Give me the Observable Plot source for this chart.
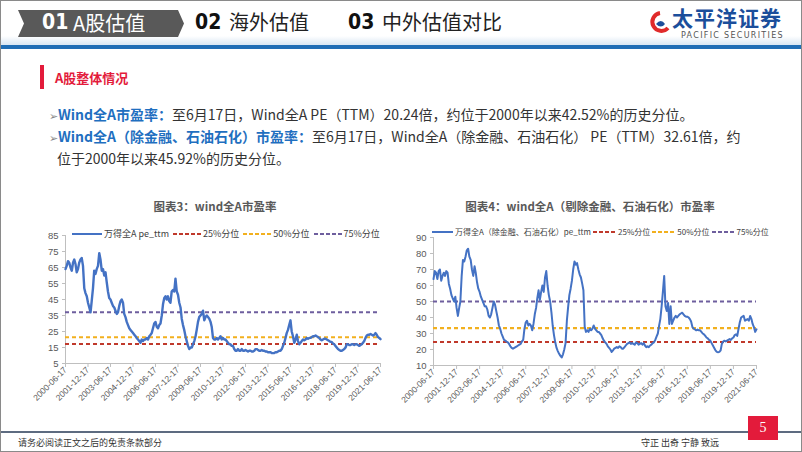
<!DOCTYPE html>
<html><head><meta charset="utf-8">
<script src="https://cdn.jsdelivr.net/npm/d3@7"></script>
<script src="https://cdn.jsdelivr.net/npm/@observablehq/plot@0.6"></script>
<style>
body{margin:0;background:#fff;}
#slide{position:relative;width:802px;height:452px;overflow:hidden;font-family:"Noto Sans CJK SC","Noto Sans",sans-serif;background:#fff;}
.abs{position:absolute;white-space:nowrap;line-height:1;}
.num{font-family:"Liberation Sans Narrow","DejaVu Sans Condensed","Liberation Sans",sans-serif;font-weight:bold;}
.leg{position:absolute;white-space:nowrap;font-size:9px;color:#404040;line-height:1;display:flex;align-items:center;}
.leg svg{display:inline-block;}
</style></head><body><div id="slide">
<div class="abs" style="left:0;top:0;width:800px;height:450px;border:1px solid #8a8a8a;"></div>
<svg class="abs" style="left:0;top:0" width="802" height="50">
  <defs><linearGradient id="hg" x1="0" y1="0" x2="0" y2="1"><stop offset="0" stop-color="#ffffff"/><stop offset="1" stop-color="#d8e6f3"/></linearGradient></defs>
  <rect x="1" y="36" width="800" height="9" fill="url(#hg)"/>
  <rect x="1" y="45" width="800" height="4" fill="#1f6db5"/>
  <polygon points="18,10 178,10 184,23.5 178,37 18,37 24,23.5" fill="#595959"/>
  <path d="M660,13 A9,9 0 1 0 668,28" fill="none" stroke="#e02a2a" stroke-width="4"/>
  <path d="M656,24 q5,-6 9,0 q-4,5 -9,0z" fill="#1b4e9b"/>
</svg>
<div class="abs num" style="left:42px;top:12px;font-size:21px;color:#fff;">01</div>
<div class="abs" style="left:73px;top:13px;font-size:20px;color:#fff;">A股估值</div>
<div class="abs num" style="left:195px;top:12px;font-size:21px;color:#111;">02</div>
<div class="abs" style="left:229px;top:12px;font-size:20px;color:#222;">海外估值</div>
<div class="abs num" style="left:348px;top:12px;font-size:21px;color:#111;">03</div>
<div class="abs" style="left:382px;top:12px;font-size:20px;color:#222;">中外估值对比</div>
<div class="abs" style="left:672px;top:7px;font-size:21px;font-weight:bold;color:#1b4e9b;letter-spacing:1px;">太平洋证券</div>
<div class="abs" style="left:681px;top:32px;font-size:8px;color:#555;letter-spacing:1.3px;font-family:'DejaVu Sans',sans-serif;">PACIFIC SECURITIES</div>
<div class="abs" style="left:40px;top:65px;width:4px;height:24px;background:#e31b3b;"></div>
<div class="abs" style="left:55px;top:71px;font-size:13px;font-weight:bold;color:#e31b3b;">A股整体情况</div>
<div class="abs" style="left:49px;top:107px;font-size:14px;color:#333;">
  <span style="color:#888;font-size:11px;">➢</span><span style="color:#1f6fc0;font-weight:bold;">Wind全A市盈率：</span>至6月17日，Wind全A PE（TTM）20.24倍，约位于2000年以来42.52%的历史分位。</div>
<div class="abs" style="left:49px;top:129px;font-size:14px;color:#333;">
  <span style="color:#888;font-size:11px;">➢</span><span style="color:#1f6fc0;font-weight:bold;">Wind全A（除金融、石油石化）市盈率：</span>至6月17日，Wind全A（除金融、石油石化） PE（TTM）32.61倍，约</div>
<div class="abs" style="left:57px;top:151px;font-size:14px;color:#333;">位于2000年以来45.92%的历史分位。</div>
<div class="abs" style="left:100px;width:230px;text-align:center;top:201px;font-size:11.5px;font-weight:bold;color:#595959;">图表3：wind全A市盈率</div>
<div class="abs" style="left:440px;width:300px;text-align:center;top:201px;font-size:11.5px;font-weight:bold;color:#595959;">图表4：wind全A（剔除金融、石油石化）市盈率</div>
<div id="c1" class="abs" style="left:20px;top:225px;"></div>
<div id="c2" class="abs" style="left:400px;top:225px;"></div>
<div id="l1"></div><div id="l2"></div>
<div class="abs" style="left:1px;top:431px;width:800px;height:2px;background:#5d6b80;"></div>
<div class="abs" style="left:748px;top:416px;width:30px;height:24px;background:#e31b3b;color:#fff;font-family:'Liberation Serif',serif;font-size:14px;text-align:center;line-height:24px;">5</div>
<div class="abs" style="left:18px;top:438px;font-size:9px;color:#333;">请务必阅读正文之后的免责条款部分</div>
<div class="abs" style="left:641px;top:438px;font-size:9px;color:#333;">守正 出奇 宁静 致远</div>
</div>
<script>
// ---- data ----
const startDate = "2000-06-17";
const endDate = "2021-06-17";
const xTickLabels = ["2000-06-17","2001-12-17","2003-06-17","2004-12-17","2006-06-17","2007-12-17","2009-06-17","2010-12-17","2012-06-17","2013-12-17","2015-06-17","2016-12-17","2018-06-17","2019-12-17","2021-06-17"];
// monthly readings, 2000-06 .. 2021-06
const peAll = [
64,66,69,68,65,63,68,70,67,62,
64,68,70,71,66,52,49,47,43,40,
37,44,52,63,61,64,66,74,70,63,
64,60,62,56,50,46,45,43,41,40,
38,36,37,41,44,45,43,36,34,31,
29,27,26,25,24,23,22,21,20,19,
18,20,19,20,20,21,20,22,23,24,
27,30,31,28,27,29,30,35,42,46,
47,45,47,44,43,50,51,50,58,50,
48,43,40,33,29,26,22,19,16,14,
15,15,17,19,22,26,31,34,35,36,
38,32,34,35,34,33,31,28,21,20,
20,21,20,21,22,20,21,20,20,19,
18,17,17,16,16,14,13,13,14,13,
13,14,13,13,13.5,13,12.5,13,13,12.5,
12.5,13,14,14,13.5,13,13,13.5,13,13,
12.5,12.5,12,12,12,11.5,11.5,11.5,12,12,
12.5,13,13,14,16,18,21,24,26,29,
32,25,22,18,20,23,19,17,18,19,
20,19.5,20,21,20.5,21,21,21.5,22,22,
22.5,22,21.5,21,20,19.5,20,20.5,20.5,20,
19.5,19,18.5,18.5,17.5,17,16,15,14,13.5,
13,13,13.5,14,15,17,17,16.5,16.5,17,
17,16.5,17,17,16.5,16,16.5,17,18,19,
21,22.5,23,23,23.5,23,22.5,23,24,23,
21.5,21,20.24];
const peExFin = [
64,69,68,64,69,70,63,66,68,66,
69,68,61,58,54,52,50,53,46,41,
46,50,66,76,75,78,82,83,78,76,
70,66,72,68,62,58,56,53,51,49,
47,47,45,41,40,42,46,50,48,44,
40,35,33,30,28,26,25.5,25,24.5,23.5,
22,21,20.5,21,21.5,22,22.5,23,23.5,25,
26,33,37,38,35,36,35,32,36,42,
46,52,57,51,56,60,56,65,69,60,
54,50,43,35,29,24.5,21,19,17.3,16,
15,17,20,24,38,46,54,58,63,70,
75,73,74,70,67,65,61,57,34,31,
32,31,33,32,33,35,33,32,31,31,
30,29,27,25.5,24.5,23.5,22,21,20,18.5,
19.5,20.5,21,21.5,21,22,21.5,20.5,20.5,21.5,
22.5,23.5,24,24.5,23.5,24,23.5,23,24.5,24,
23,23.5,24,23,24,22.5,21.5,22,21.5,22.5,
23,24,24.5,26,28,30,35,39,47,56,
66,47,44,49,36,47,36,38,40,41,
40,41,42,42.5,43,42,41,40.5,40.5,40,
39,37.5,34,33,32.5,32,32.5,32,32,31,
30,29.5,28.5,27.5,27,26,25.5,24,22.5,21,
19.5,18.5,18.3,18.5,19.5,23.5,25,25.5,25,25.5,
26,26.5,26,27,27.5,29,29.5,28.5,33,37,
40,40.5,41,38,38.5,39,38,41,39,36,
34,31,32.61];
const pctAll = {p25: 17.2, p50: 21.4, p75: 37.1};
const pctExFin = {p25: 24.7, p50: 33.3, p75: 50};
const yTicksAll = [5,15,25,35,45,55,65,75,85];
const yTicksExFin = [10,20,30,40,50,60,70,80,90];
const seriesNames = ["万得全A pe_ttm", "万得全A（除金融、石油石化）pe_ttm"];
const pctNames = ["25%分位","50%分位","75%分位"];

const COL = {line:"#4472C4", p25:"#C0392B", p50:"#F2B01E", p75:"#6E5E9E", axis:"#BFBFBF", text:"#595959"};
const parse = d3.utcParse("%Y-%m-%d");
const x0 = parse(startDate), x1 = parse(endDate);

function toRows(values){
  return values.map((v,i)=>({date: d3.utcMonth.offset(x0, i), v}));
}

function chart(el, values, pct, yTicks, cfg){
  const rows = toRows(values);
  const p = Plot.plot({
    width: cfg.width, height: cfg.height,
    marginLeft: cfg.ml, marginRight: cfg.mr, marginTop: cfg.mt, marginBottom: cfg.mb,
    style: {fontFamily: "'Liberation Sans', 'Noto Sans', sans-serif", fontSize: "9px", color: COL.text, background: "transparent", overflow: "visible"},
    x: {type: "utc", domain: [x0, x1]},
    y: {domain: [yTicks[0], yTicks[yTicks.length-1]]},
    marks: [
      Plot.ruleX([x0], {stroke: COL.axis}),
      Plot.ruleY([yTicks[0]], {stroke: COL.axis}),
      Plot.axisY({ticks: yTicks, tickSize: 3, tickPadding: 4, stroke: COL.axis, fill: COL.text, fontSize: 9.5, label: null}),
      Plot.axisX({ticks: xTickLabels.map(parse), tickFormat: d3.utcFormat("%Y-%m-%d"), tickRotate: -45, tickSize: 4, tickPadding: 1, stroke: COL.axis, fill: COL.text, fontSize: 8.5, label: null}),
      Plot.ruleY([pct.p25], {stroke: COL.p25, strokeWidth: 2, strokeDasharray: "4,3"}),
      Plot.ruleY([pct.p50], {stroke: COL.p50, strokeWidth: 2.2, strokeDasharray: "4,3"}),
      Plot.ruleY([pct.p75], {stroke: COL.p75, strokeWidth: 2, strokeDasharray: "4,3"}),
      Plot.lineY(rows, {x: "date", y: "v", stroke: COL.line, strokeWidth: cfg.sw, curve: "linear"})
    ]
  });
  document.getElementById(el).appendChild(p);
}

chart("c1", peAll, pctAll, yTicksAll, {width: 370, height: 195, ml: 45, mr: 10, mt: 10, mb: 57, sw: 2.4});
chart("c2", peExFin, pctExFin, yTicksExFin, {width: 390, height: 195, ml: 33, mr: 34, mt: 12, mb: 55, sw: 2});

function legend(id, left, top, items, font){
  const div = document.getElementById(id);
  div.className = "leg";
  div.style.left = left + "px"; div.style.top = top + "px"; div.style.fontSize = font + "px";
  items.forEach(it => {
    const s = document.createElementNS("http://www.w3.org/2000/svg","svg");
    s.setAttribute("width", it.w); s.setAttribute("height", 6);
    s.style.marginRight = "2px"; s.style.marginLeft = it.gap + "px";
    const l = document.createElementNS("http://www.w3.org/2000/svg","line");
    l.setAttribute("x1",0); l.setAttribute("x2",it.w); l.setAttribute("y1",3); l.setAttribute("y2",3);
    l.setAttribute("stroke", it.color); l.setAttribute("stroke-width", 2);
    if (it.dash) l.setAttribute("stroke-dasharray", "4,2");
    s.appendChild(l); div.appendChild(s);
    const t = document.createElement("span"); t.textContent = it.label; div.appendChild(t);
  });
}
legend("l1", 72, 229, [
  {w:30, color: COL.line, label: seriesNames[0], gap:0},
  {w:28, color: COL.p25, dash:true, label: pctNames[0], gap:4},
  {w:28, color: COL.p50, dash:true, label: pctNames[1], gap:4},
  {w:28, color: COL.p75, dash:true, label: pctNames[2], gap:4}
], 9);
legend("l2", 432, 228, [
  {w:21, color: COL.line, label: seriesNames[1], gap:0},
  {w:23, color: COL.p25, dash:true, label: pctNames[0], gap:2},
  {w:23, color: COL.p50, dash:true, label: pctNames[1], gap:2},
  {w:23, color: COL.p75, dash:true, label: pctNames[2], gap:2}
], 8);
</script>
</body></html>
